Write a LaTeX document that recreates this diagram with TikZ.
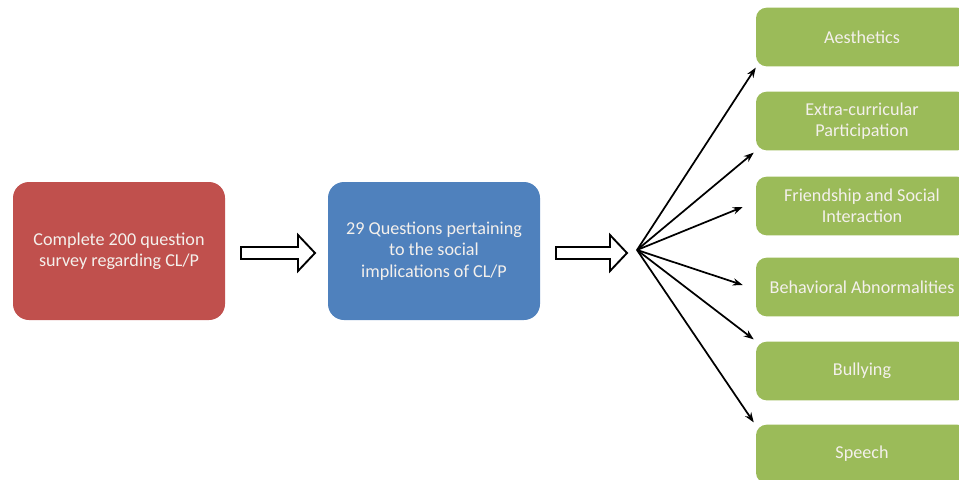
\documentclass[tikz,border=0pt]{standalone}
\usepackage{fontspec}
\setmainfont{Carlito}
\usetikzlibrary{arrows.meta,calc}
\definecolor{cred}{HTML}{C0504D}
\definecolor{cblue}{HTML}{4F81BD}
\definecolor{cgreen}{HTML}{9BBB59}
\definecolor{ctext}{HTML}{F4F0EC}
\begin{document}
\begin{tikzpicture}[x=0.75pt,y=-0.75pt,
  box/.style={rounded corners=12pt,minimum width=159pt,inner sep=2pt,align=center,text=ctext,font=\fontsize{13.6}{16}\selectfont},
  bigbox/.style={box,minimum height=103.5pt},
  greenbox/.style={box,fill=cgreen,minimum height=44pt,rounded corners=8pt},
  hollow/.style={draw=black,line width=1.4pt,fill=white,line join=miter},
  fan/.style={line width=1.3pt,-{Stealth[length=7.5pt,width=5.5pt]}}]
\useasboundingbox (0,0) rectangle (959,479);
\begin{scope}
\clip (0,0) rectangle (959,479);
\node[bigbox,fill=cred] (survey) at (119,251) {Complete 200 question\\survey regarding CL/P};
\node[bigbox,fill=cblue] (q29) at (434,251) {29 Questions pertaining\\to the social\\implications of CL/P};
\node[greenbox] (g1) at (862,37) {Aesthetics};
\node[greenbox] (g2) at (862,121) {Extra-curricular\\Participation};
\node[greenbox] (g3) at (862,206) {Friendship and Social\\Interaction};
\node[greenbox] (g4) at (862,287) {Behavioral Abnormalities};
\node[greenbox] (g5) at (862,371) {Bullying};
\node[greenbox] (g6) at (862,454) {Speech};
\end{scope}
% hollow block arrows
\draw[hollow] (241,247) -- (298,247) -- (298,235) -- (315,253) -- (298,271) -- (298,259) -- (241,259) -- cycle;
\draw[hollow] (556,247) -- (610,247) -- (610,235) -- (627,253) -- (610,271) -- (610,259) -- (556,259) -- cycle;
\coordinate (fan) at (637,250);
\draw[fan] (fan) -- ($(g1.south west)+(0,1)$);
\draw[fan] (fan) -- ($(g2.south west)+(-2,2)$);
\draw[fan] (fan) -- ($(g3.west)+(-13,1)$);
\draw[fan] (fan) -- ($(g4.west)+(-13,-2)$);
\draw[fan] (fan) -- ($(g5.north west)+(-2,-2)$);
\draw[fan] (fan) -- ($(g6.north west)+(-2,-2)$);
\end{tikzpicture}
\end{document}
